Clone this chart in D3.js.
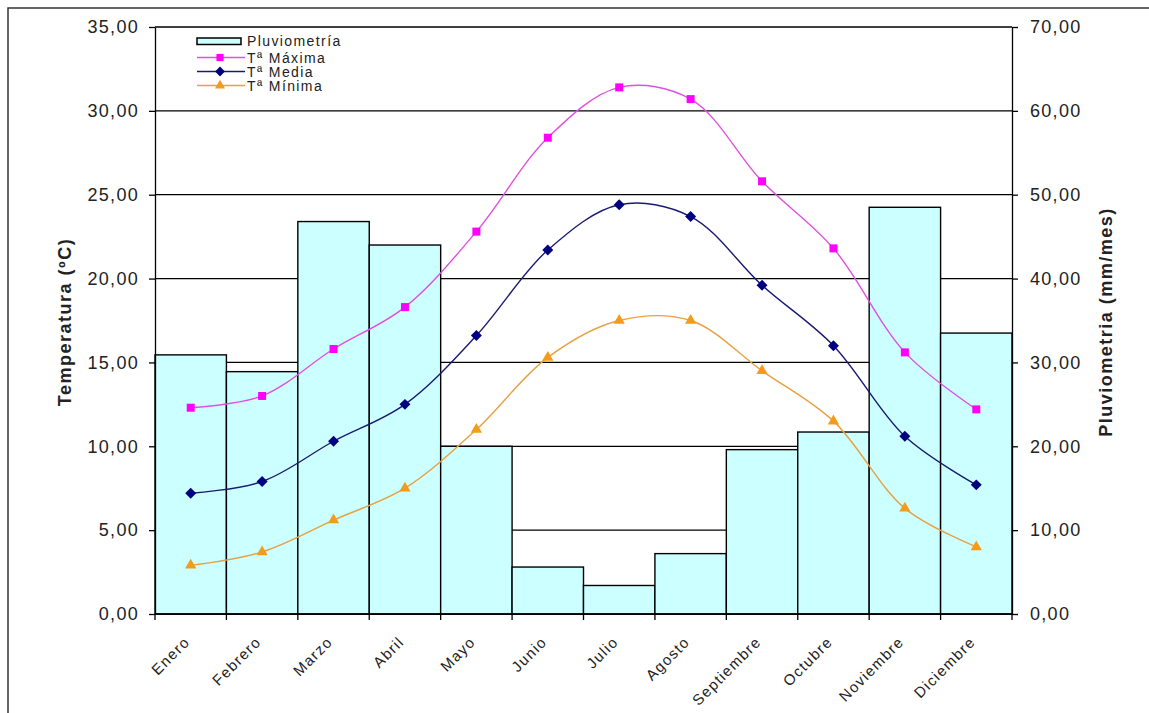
<!DOCTYPE html>
<html>
<head>
<meta charset="utf-8">
<script src="https://cdn.jsdelivr.net/npm/d3@7"></script>
<style>
  body { margin: 0; background: #fff; }
  text { font-family: "Liberation Sans", Arial, sans-serif; fill: #222; }
</style>
</head>
<body>
<div id="chart"></div>
<script>
var meses = ["Enero", "Febrero", "Marzo", "Abril", "Mayo", "Junio", "Julio", "Agosto", "Septiembre", "Octubre", "Noviembre", "Diciembre"]
var pluviometria = [30.9, 28.9, 46.8, 44.0, 20.0, 5.6, 3.4, 7.2, 19.6, 21.7, 48.5, 33.5]
var tMaxima = [12.3, 13.0, 15.8, 18.3, 22.8, 28.4, 31.4, 30.7, 25.8, 21.8, 15.6, 12.2]
var tMedia = [7.2, 7.9, 10.3, 12.5, 16.6, 21.7, 24.4, 23.7, 19.6, 16.0, 10.6, 7.7]
var tMinima = [2.9, 3.7, 5.6, 7.5, 11.0, 15.3, 17.5, 17.5, 14.5, 11.5, 6.3, 4.0]
var ticksTemp = [0, 5, 10, 15, 20, 25, 30, 35]
var ticksPluv = [0, 10, 20, 30, 40, 50, 60, 70]

var W = 1149, H = 713
// plot box (named so it does not clash with window.top)
var plotL = 155, plotR = 1012, plotT = 27, plotB = 614

var svg = d3.select("#chart").append("svg")
  .attr("width", W).attr("height", H)

// outer frame (runs off the picture on the right and bottom)
svg.append("rect")
  .attr("x", 8).attr("y", 8).attr("width", 1300).attr("height", 900)
  .attr("fill", "none").attr("stroke", "#333").attr("stroke-width", 1.5)

var x = d3.scaleBand().domain(meses).range([plotL, plotR]).padding(0)
var yT = d3.scaleLinear().domain([0, 35]).range([plotB, plotT])
var yP = d3.scaleLinear().domain([0, 70]).range([plotB, plotT])
var fmt = function(d) { return d3.format(".2f")(d).replace(".", ",") }

// grid lines
svg.append("g").selectAll("line")
  .data(ticksTemp)
  .enter().append("line")
  .attr("x1", plotL).attr("x2", plotR)
  .attr("y1", function(d) { return yT(d) }).attr("y2", function(d) { return yT(d) })
  .attr("stroke", "#000").attr("stroke-width", 1.3)

// bars
svg.append("g").selectAll("rect")
  .data(pluviometria)
  .enter().append("rect")
  .attr("x", function(d, i) { return x(meses[i]) })
  .attr("y", function(d) { return yP(d) })
  .attr("width", x.bandwidth())
  .attr("height", function(d) { return plotB - yP(d) })
  .attr("fill", "#ccffff")
  .attr("stroke", "#000").attr("stroke-width", 1.4)

// axes
var axL = svg.append("g").attr("transform", "translate(" + plotL + ",0)")
  .call(d3.axisLeft(yT).tickValues(ticksTemp).tickFormat(fmt).tickSize(6).tickSizeOuter(0).tickPadding(10))
var axR = svg.append("g").attr("transform", "translate(" + plotR + ",0)")
  .call(d3.axisRight(yP).tickValues(ticksPluv).tickFormat(fmt).tickSize(6).tickSizeOuter(0).tickPadding(12))
;[axL, axR].forEach(function(a) {
  a.selectAll("path, line").attr("stroke", "#000").attr("stroke-width", 1.3)
  a.selectAll("text").style("font-size", "18px").style("letter-spacing", "1.3px").attr("fill", "#2a2a2a")
})

// bottom axis line and ticks at band edges
var edges = meses.map(function(m) { return x(m) }).concat([plotR])
svg.append("line").attr("x1", plotL).attr("x2", plotR).attr("y1", plotB).attr("y2", plotB)
  .attr("stroke", "#000").attr("stroke-width", 1.3)
svg.append("g").selectAll("line")
  .data(edges)
  .enter().append("line")
  .attr("x1", function(d) { return d }).attr("x2", function(d) { return d })
  .attr("y1", plotB).attr("y2", plotB + 6)
  .attr("stroke", "#000").attr("stroke-width", 1.3)

svg.append("g").selectAll("text")
  .data(meses)
  .enter().append("text")
  .attr("transform", function(d) { return "translate(" + (x(d) + x.bandwidth() / 2) + "," + (plotB + 29) + ") rotate(-45)" })
  .attr("text-anchor", "end")
  .style("font-size", "15px").style("letter-spacing", "1.3px")
  .text(function(d) { return d })

// axis titles
svg.append("text")
  .attr("transform", "translate(71,322) rotate(-90)")
  .attr("text-anchor", "middle")
  .style("font-size", "18px").style("font-weight", "bold").style("letter-spacing", "1.5px")
  .attr("fill", "#111")
  .text("Temperatura (ºC)")
svg.append("text")
  .attr("transform", "translate(1112,322) rotate(-90)")
  .attr("text-anchor", "middle")
  .style("font-size", "18px").style("font-weight", "bold").style("letter-spacing", "1.5px")
  .attr("fill", "#111")
  .text("Pluviometria (mm/mes)")

// lines
var diamond = { draw: function(ctx, size) {
  var r = Math.sqrt(size / 2)
  ctx.moveTo(0, -r); ctx.lineTo(r, 0); ctx.lineTo(0, r); ctx.lineTo(-r, 0); ctx.closePath()
} }
var series = [
  { name: "Tª Máxima", values: tMaxima, color: "#ff00ff", line: "#e050e0", shape: d3.symbolSquare, size: 64 },
  { name: "Tª Media", values: tMedia, color: "#000080", line: "#1a1a70", shape: diamond, size: 60 },
  { name: "Tª Mínima", values: tMinima, color: "#f39c1a", line: "#e8a040", shape: d3.symbolTriangle, size: 55 }
]

var line = d3.line()
  .x(function(d, i) { return x(meses[i]) + x.bandwidth() / 2 })
  .y(function(d) { return yT(d) })
  .curve(d3.curveCatmullRom.alpha(0.5))

series.forEach(function(s) {
  svg.append("path")
    .datum(s.values)
    .attr("d", line)
    .attr("fill", "none")
    .attr("stroke", s.line).attr("stroke-width", 1.4)
  svg.append("g").selectAll("path")
    .data(s.values)
    .enter().append("path")
    .attr("transform", function(d, i) { return "translate(" + (x(meses[i]) + x.bandwidth() / 2) + "," + yT(d) + ")" })
    .attr("d", d3.symbol().type(s.shape).size(s.size))
    .attr("fill", s.color)
})

// legend
var lg = svg.append("g").attr("transform", "translate(197,0)")
lg.append("rect").attr("x", 0).attr("y", 38).attr("width", 44).attr("height", 6.5)
  .attr("fill", "#ccffff").attr("stroke", "#000").attr("stroke-width", 1.5)
lg.append("text").attr("x", 50).attr("y", 46).style("font-size", "14px").style("letter-spacing", "1.4px").text("Pluviometría")
var rowsY = [57.5, 71.5, 85.5]
series.forEach(function(s, i) {
  var yy = rowsY[i]
  lg.append("line").attr("x1", 0).attr("x2", 48).attr("y1", yy).attr("y2", yy)
    .attr("stroke", s.line).attr("stroke-width", 1.5)
  lg.append("path").attr("transform", "translate(23," + yy + ")")
    .attr("d", d3.symbol().type(s.shape).size(s.size * 0.8))
    .attr("fill", s.color)
  lg.append("text").attr("x", 50).attr("y", yy + 5).style("font-size", "14px").style("letter-spacing", "1.4px").text(s.name)
})
</script>
</body>
</html>
